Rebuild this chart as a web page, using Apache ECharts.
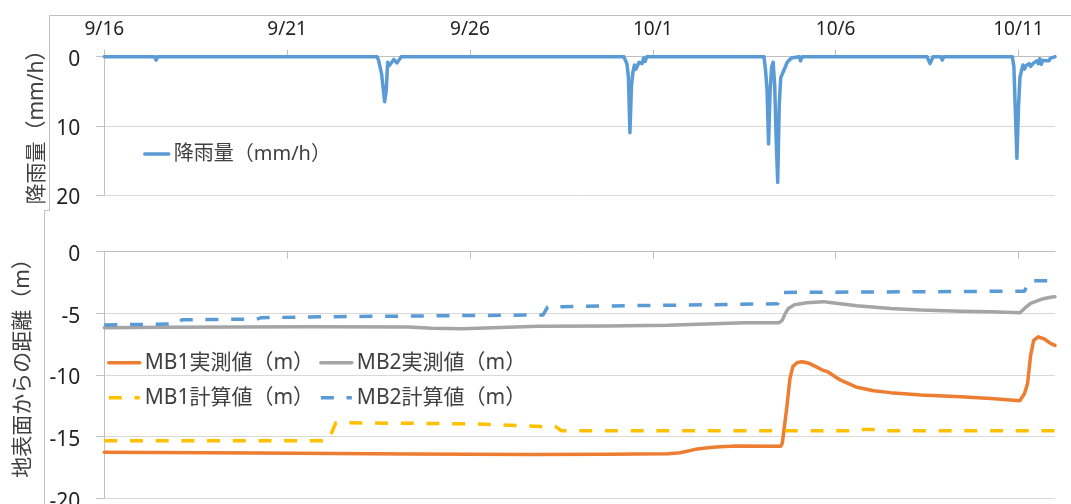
<!DOCTYPE html>
<html>
<head>
<meta charset="utf-8">
<script src="https://cdn.jsdelivr.net/npm/echarts@6/dist/echarts.min.js"></script>
<style>
  html, body { margin: 0; padding: 0; background: #fff; }
  #chart { width: 1071px; height: 504px; }
</style>
</head>
<body>
<div id="chart"></div>
<script>
// x values are hours elapsed since 9/16 00:00
const xTickHours = [0, 120, 240, 360, 480, 600];
const xTickLabels = ['9/16', '9/21', '9/26', '10/1', '10/6', '10/11'];

// hourly rainfall (mm/h)
const rainfall = [
  [0, 0], [33, 0], [34, 0.5], [35, 0],
  [179, 0], [180, 0.5], [182, 2.5], [183, 4.5], [184, 6.5], [185, 5.0], [186, 0.8],
  [187, 1.3], [188, 1.2], [190, 0.4], [192, 0.9], [193, 1.0], [194, 0.3], [195, 0],
  [341, 0], [343, 1.0], [344, 2.9], [345, 11.0], [346, 4.3], [347, 2.2], [348, 1.2],
  [349, 1.8], [350, 1.9], [351, 0.8], [352, 0.7], [353, 1.0], [354, 0.2], [355, 0.7], [356, 0],
  [433, 0], [434, 1.9], [435, 4.8], [436, 12.6], [437, 5.0], [438, 1.5], [439, 0.8],
  [440, 4.0], [441, 12.0], [442, 18.2], [443, 7.0], [444, 3.0], [445, 2.5], [446, 2.3],
  [447, 1.5], [448, 0.9], [449, 0.6], [450, 0.5], [451, 0.2], [452, 0],
  [456, 0], [457, 0.6], [458, 0],
  [540, 0], [542, 1.0], [544, 0], [549, 0], [550, 0.5], [551, 0],
  [596, 0], [597, 1.4], [598, 8.0], [599, 14.7], [600, 7.5], [601, 3.0], [602, 2.0],
  [603, 1.2], [604, 1.8], [605, 1.3], [606, 1.5], [607, 1.0], [608, 1.4], [609, 1.2],
  [610, 0.9], [611, 1.0], [612, 0.6], [613, 1.0], [614, 0.3], [615, 1.1], [616, 0.5],
  [617, 0.3], [618, 0.6], [619, 0.4], [620, 0.6], [621, 0.2], [622, 0.4], [623, 0.1], [624, 0]
];

// depth below ground surface (m)
const mb1Measured = [
  [0, -16.27], [100, -16.32], [200, -16.40], [280, -16.45], [330, -16.42], [370, -16.38],
  [378, -16.30], [388, -16.03], [396, -15.90], [404, -15.81], [415, -15.76], [444, -15.78],
  [445, -15.55], [448, -12.6], [450, -10.3], [452, -9.30], [455, -8.98], [458, -8.92],
  [462, -9.02], [467, -9.32], [471, -9.58], [475, -9.75], [483, -10.40], [494, -11.00],
  [505, -11.27], [516, -11.43], [536, -11.62], [562, -11.76], [582, -11.90], [601, -12.08],
  [604, -11.50], [606, -10.70], [608, -8.40], [610, -7.20], [613, -6.90], [617, -7.08],
  [621, -7.43], [624, -7.60]
];
const mb2Measured = [
  [0, -6.16], [40, -6.12], [135, -6.08], [200, -6.10], [215, -6.20], [235, -6.24],
  [260, -6.15], [285, -6.05], [330, -6.03], [370, -5.97], [395, -5.86], [420, -5.77],
  [443, -5.76], [445, -5.55], [447, -5.00], [449, -4.60], [453, -4.30], [461, -4.14],
  [472, -4.05], [475, -4.10], [494, -4.38], [516, -4.60], [536, -4.73], [562, -4.82],
  [582, -4.88], [601, -4.95], [604, -4.60], [608, -4.19], [615, -3.86], [621, -3.70], [624, -3.65]
];
const mb1Calculated = [
  [0, -15.33], [147, -15.33], [152, -13.87], [240, -13.96], [286, -14.17], [296, -14.17],
  [300, -14.52], [490, -14.52], [492, -14.43], [508, -14.43], [510, -14.52], [624, -14.52]
];
const mb2Calculated = [
  [0, -5.94], [48, -5.86], [51, -5.52], [100, -5.47], [103, -5.35], [150, -5.27],
  [200, -5.22], [288, -5.13], [291, -4.48], [330, -4.40], [400, -4.30], [442, -4.22],
  [445, -3.30], [500, -3.27], [604, -3.20], [607, -2.36], [624, -2.34]
];

const FONT = "'Noto Sans', 'Noto Sans CJK JP', sans-serif";
const GRID_COLOR = '#D9D9D9';
const AXIS_COLOR = '#BFBFBF';
const TEXT_COLOR = '#222';
const LEGEND_COLOR = '#404040';
const DASH = [13, 12.7];
const LINE_W = 3.5;

const chart = echarts.init(document.getElementById('chart'), null, { renderer: 'canvas' });

function xAxisFor(gridIndex, showLabels) {
  return {
    type: 'value', gridIndex: gridIndex, min: 0, max: 624,
    position: 'top',
    axisLine: { show: true, onZero: false, lineStyle: { color: AXIS_COLOR, width: 1 } },
    axisTick: { show: true, inside: !showLabels, length: 7, customValues: xTickHours,
                lineStyle: { color: AXIS_COLOR } },
    axisLabel: {
      show: showLabels, customValues: xTickHours, margin: 18,
      fontFamily: FONT, fontSize: 19, color: TEXT_COLOR,
      formatter: v => xTickLabels[xTickHours.indexOf(v)] || ''
    },
    splitLine: { show: false }
  };
}

function yAxisFor(gridIndex, opts) {
  return Object.assign({
    type: 'value', gridIndex: gridIndex,
    axisLine: { show: true, lineStyle: { color: AXIS_COLOR, width: 1 } },
    axisTick: { show: true, length: 8, lineStyle: { color: AXIS_COLOR } },
    axisLabel: {
      margin: 24,
      formatter: v => '{n|' + v + '}',
      rich: { n: { fontFamily: FONT, fontSize: 21, color: TEXT_COLOR, padding: [7, 0, 0, 0] } }
    },
    splitLine: { show: true, lineStyle: { color: GRID_COLOR, width: 1 } }
  }, opts);
}

function lineSeries(name, data, color, xi, yi, dashed) {
  return {
    name: name, type: 'line', xAxisIndex: xi, yAxisIndex: yi,
    data: data, showSymbol: false, symbol: 'none', smooth: false,
    lineStyle: { color: color, width: LINE_W, type: dashed ? DASH : 'solid',
                 cap: dashed ? 'butt' : 'round', join: 'round' },
    itemStyle: { color: color },
    emphasis: { disabled: true },
    z: dashed ? 3 : 2
  };
}

const legendText = { fontFamily: FONT, fontSize: 20, color: LEGEND_COLOR };
const legendBase = {
  padding: 0, itemHeight: 20, selectedMode: false,
  itemStyle: { opacity: 0 },
  lineStyle: { width: LINE_W }
};

chart.setOption({
  animation: false,
  backgroundColor: '#fff',
  grid: [
    { left: 104.3, right: 16, top: 56.7, height: 138.3, containLabel: false, outerBoundsMode: 'none' },
    { left: 104.3, right: 16, top: 251.7, height: 246.6, containLabel: false, outerBoundsMode: 'none' }
  ],
  xAxis: [xAxisFor(0, true), xAxisFor(1, false)],
  yAxis: [
    yAxisFor(0, { min: 0, max: 20, interval: 10, inverse: true }),
    yAxisFor(1, { min: -20, max: 0, interval: 5 })
  ],
  legend: [
    Object.assign({ data: ['降雨量（mm/h）'], left: 143, top: 144, itemWidth: 24,
      textStyle: legendText }, legendBase),
    Object.assign({ data: ['MB1実測値（m）', 'MB2実測値（m）'], left: 107, top: 352.3,
      itemWidth: 31, itemGap: 5, textStyle: Object.assign({}, legendText, { fontSize: 21 }) }, legendBase),
    Object.assign({ data: ['MB1計算値（m）', 'MB2計算値（m）'], left: 107, top: 387.3,
      itemWidth: 31, itemGap: 5, textStyle: Object.assign({}, legendText, { fontSize: 21 }) }, legendBase)
  ],
  series: [
    lineSeries('降雨量（mm/h）', rainfall, '#5B9BD5', 0, 0, false),
    lineSeries('MB1実測値（m）', mb1Measured, '#ED7D31', 1, 1, false),
    lineSeries('MB2実測値（m）', mb2Measured, '#A5A5A5', 1, 1, false),
    lineSeries('MB1計算値（m）', mb1Calculated, '#FFC000', 1, 1, true),
    lineSeries('MB2計算値（m）', mb2Calculated, '#5B9BD5', 1, 1, true)
  ],
  graphic: [
    // outer frame edges of the two stacked plots
    { type: 'line', shape: { x1: 49.5, y1: 15.5, x2: 1071, y2: 15.5 }, style: { stroke: AXIS_COLOR, lineWidth: 1 }, silent: true },
    { type: 'line', shape: { x1: 49.5, y1: 15.5, x2: 49.5, y2: 210.5 }, style: { stroke: AXIS_COLOR, lineWidth: 1 }, silent: true },
    { type: 'line', shape: { x1: 44.5, y1: 210.5, x2: 49.5, y2: 210.5 }, style: { stroke: AXIS_COLOR, lineWidth: 1 }, silent: true },
    { type: 'line', shape: { x1: 44.5, y1: 210.5, x2: 44.5, y2: 504 }, style: { stroke: AXIS_COLOR, lineWidth: 1 }, silent: true },
    // axis titles
    { type: 'text', x: 37, y: 122, rotation: Math.PI / 2, silent: true,
      style: { text: '降雨量（mm/h）', fontFamily: FONT, fontSize: 21, fill: LEGEND_COLOR,
               align: 'center', verticalAlign: 'middle' } },
    { type: 'text', x: 23, y: 363, rotation: Math.PI / 2, silent: true,
      style: { text: '地表面からの距離（m）', fontFamily: FONT, fontSize: 21, fill: LEGEND_COLOR,
               align: 'center', verticalAlign: 'middle' } }
  ]
});
</script>
</body>
</html>
